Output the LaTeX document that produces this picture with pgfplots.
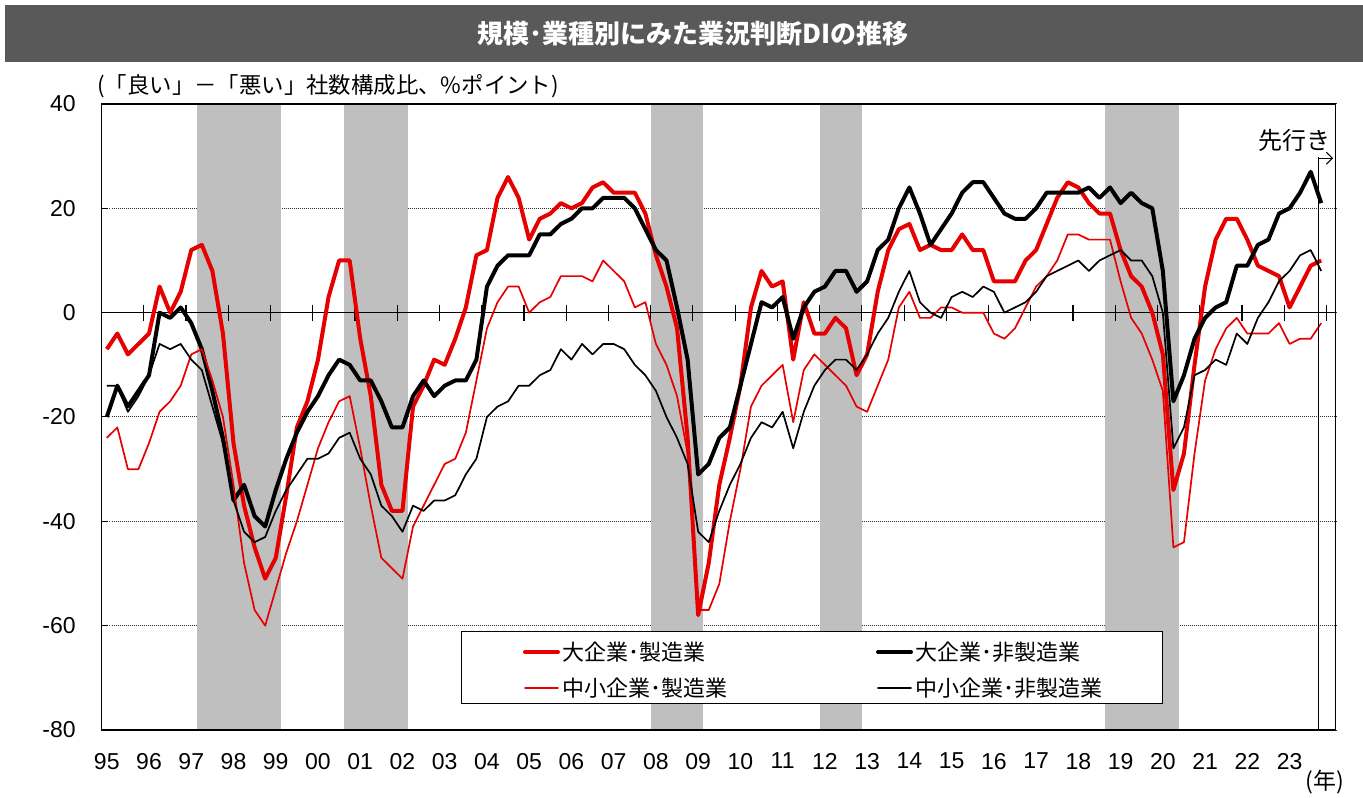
\documentclass[border=0pt]{standalone}
\usepackage{fontspec}
\setmainfont{Liberation Sans}
\newfontfamily\jp{Noto Sans CJK JP}
\usepackage{pgfplots}
\pgfplotsset{compat=1.18}
\usepackage{pgfplotstable}
\usetikzlibrary{arrows.meta}
\definecolor{jred}{RGB}{230,0,0}
\definecolor{shadegray}{RGB}{191,191,191}
\definecolor{bannergray}{RGB}{89,89,89}

% quarterly, x=0 is 1995 Q1 ... x=115 is 2023 Q4 (forecast)
\pgfplotstableread{
x LM LN SM SN
0 -7 -20 -24 -14
1 -4 -14 -22 -14
2 -8 -18 -30 -19
3 -6 -15 -30 -16
4 -4 -12 -25 -12
5 5 0 -19 -6
6 0 -1 -17 -7
7 4 1 -14 -6
8 12 -2 -8 -9
9 13 -7 -7 -11
10 8 -15 -13 -18
11 -4 -24 -20 -25
12 -25 -36 -33 -36
13 -37 -33 -48 -42
14 -45 -39 -57 -44
15 -51 -41 -60 -43
16 -47 -34 -53 -38
17 -35 -28 -46 -34
18 -22 -23 -40 -31
19 -17 -19 -33 -28
20 -9 -16 -26 -28
21 3 -12 -21 -27
22 10 -9 -17 -24
23 10 -10 -16 -23
24 -5 -13 -26 -28
25 -16 -13 -37 -31
26 -33 -17 -47 -37
27 -38 -22 -49 -39
28 -38 -22 -51 -42
29 -18 -16 -41 -37
30 -14 -13 -37 -38
31 -9 -16 -33 -36
32 -10 -14 -29 -36
33 -5 -13 -28 -35
34 1 -13 -23 -31
35 11 -9 -13 -28
36 12 5 -3 -20
37 22 9 2 -18
38 26 11 5 -17
39 22 11 5 -14
40 14 11 0 -14
41 18 15 2 -12
42 19 15 3 -11
43 21 17 7 -7
44 20 18 7 -9
45 21 20 7 -6
46 24 20 6 -8
47 25 22 10 -6
48 23 22 8 -6
49 23 22 6 -7
50 23 20 1 -10
51 19 16 2 -12
52 11 12 -6 -15
53 5 10 -10 -20
54 -3 1 -16 -24
55 -24 -9 -27 -29
56 -58 -31 -57 -42
57 -48 -29 -57 -44
58 -33 -24 -52 -38
59 -24 -22 -40 -33
60 -14 -14 -30 -29
61 1 -6 -18 -24
62 8 2 -14 -21
63 5 1 -12 -22
64 6 3 -10 -19
65 -9 -5 -21 -26
66 2 1 -11 -19
67 -4 4 -8 -14
68 -4 5 -10 -11
69 -1 8 -12 -9
70 -3 8 -14 -9
71 -12 4 -18 -11
72 -8 6 -19 -8
73 4 12 -14 -4
74 12 14 -9 -1
75 16 20 1 4
76 17 24 4 8
77 12 19 -1 2
78 13 13 -1 0
79 12 16 1 -1
80 12 19 1 3
81 15 23 0 4
82 12 25 0 3
83 12 25 0 5
84 6 22 -4 4
85 6 19 -5 0
86 6 18 -3 1
87 10 18 1 2
88 12 20 5 4
89 17 23 7 7
90 22 23 10 8
91 25 23 15 9
92 24 23 15 10
93 21 24 14 8
94 19 22 14 10
95 19 24 14 11
96 12 21 6 12
97 7 23 -1 10
98 5 21 -4 10
99 0 20 -9 7
100 -8 8 -15 0
101 -34 -17 -45 -26
102 -27 -12 -44 -22
103 -10 -5 -27 -12
104 5 -1 -13 -11
105 14 1 -7 -9
106 18 2 -3 -10
107 18 9 -1 -4
108 14 9 -4 -6
109 9 13 -4 -1
110 8 14 -4 2
111 7 19 -2 6
112 1 20 -6 8
113 5 23 -5 11
114 9 27 -5 12
115 10 21 -2 8
}\dataDI

% shaded periods (start end)
\pgfplotstableread{
s e
8.5 16.5
22.5 28.5
51.5 56.5
67.5 71.5
94.5 101.5
}\shadeTab

\begin{document}
\begin{tikzpicture}
\useasboundingbox (0,0) rectangle (681.5pt,398.5pt);
\fill[bannergray] (2.5pt,396pt) rectangle (681.5pt,367.5pt);
\node[text=white, font=\jp\bfseries\fontsize{13}{15}\selectfont] at (346.5pt,381.5pt) {規模･業種別にみた業況判断DIの推移};
\node[anchor=west, font=\jp\fontsize{11.2}{13}\selectfont, inner sep=0pt] at (48.5pt,355.5pt) {(「良い」－「悪い」社数構成比、\%ポイント)};
\begin{axis}[
  at={(50.75pt,33.5pt)}, anchor=south west,
  scale only axis, width=617.1pt, height=313pt,
  xmin=-0.5, xmax=116.37, ymin=-80, ymax=40,
  ytick={-80,-60,-40,-20,0,20,40},
  xtick={0,4,...,112},
  xticklabels={95,96,97,98,99,00,01,02,03,04,05,06,07,08,09,10,11,12,13,14,15,16,17,18,19,20,21,22,23},
  xtick style={draw=none},
  ytick style={black, line width=0.5pt},
  major tick length=3.5pt,
  tick align=inside, ytick pos=left, xtick pos=bottom,
  ymajorgrids,
  grid style={black!80, line width=0.5pt, dash pattern=on 0.5pt off 0.5pt},
  axis line style={black, line width=0.7pt},
  tick label style={font=\fontsize{11.5}{13}\selectfont},
  /pgf/number format/assume math mode=true,
  yticklabel style={xshift=-9.4pt},
  xticklabel style={yshift=-8pt},
  no marks,
]
% shaded periods
\pgfplotsinvokeforeach{0,1,2,3,4}{
  \pgfplotstablegetelem{#1}{s}\of\shadeTab \let\sS\pgfplotsretval
  \pgfplotstablegetelem{#1}{e}\of\shadeTab \let\sE\pgfplotsretval
  \edef\tmp{\noexpand\addplot[fill=shadegray, draw=none, forget plot] coordinates {(\sS,-79.85) (\sE,-79.85) (\sE,39.85) (\sS,39.85)};}
  \tmp
}
% zero line and year ticks
\draw[black, line width=0.7pt] (axis cs:-0.5,0) -- (axis cs:116.37,0);
\pgfplotsinvokeforeach{3.5,7.5,...,115.5}{
  \draw[black, line width=0.6pt] ([yshift=4pt]axis cs:#1,0) -- ([yshift=-4pt]axis cs:#1,0);
}
% series
\addplot[jred, line width=2pt, line join=round] table[x=x,y=LM]{\dataDI};
\addplot[black, line width=2pt, line join=round] table[x=x,y=LN]{\dataDI};
\addplot[jred, line width=0.85pt, line join=round] table[x=x,y=SM]{\dataDI};
\addplot[black, line width=0.85pt, line join=round] table[x=x,y=SN]{\dataDI};
% forecast marker
\draw[black, line width=0.5pt] (axis cs:114.7,-80) -- (axis cs:114.7,29.8);
\draw[black, line width=0.5pt, -{Straight Barb[length=3pt,width=6pt]}] (axis cs:114.7,29.6) -- ([xshift=7.5pt]axis cs:114.7,29.6);
\node[anchor=east, font=\jp\fontsize{12}{14}\selectfont, inner sep=0pt] at (axis cs:115.93,33) {先行き};
\end{axis}
% legend
\draw[fill=white, line width=0.5pt] (230.5pt,82.5pt) rectangle (581pt,47pt);
\draw[jred, line width=2pt, line cap=round] (262.5pt,72.5pt) -- (279pt,72.5pt);
\node[anchor=west, font=\jp\fontsize{11}{13}\selectfont, inner sep=0pt] at (281pt,72.5pt) {大企業･製造業};
\draw[black, line width=2pt, line cap=round] (439pt,72.5pt) -- (455.5pt,72.5pt);
\node[anchor=west, font=\jp\fontsize{11}{13}\selectfont, inner sep=0pt] at (457.5pt,72.5pt) {大企業･非製造業};
\draw[jred, line width=0.85pt, line cap=round] (262.5pt,54.5pt) -- (279pt,54.5pt);
\node[anchor=west, font=\jp\fontsize{11}{13}\selectfont, inner sep=0pt] at (281pt,54.5pt) {中小企業･製造業};
\draw[black, line width=0.85pt, line cap=round] (439pt,54.5pt) -- (455.5pt,54.5pt);
\node[anchor=west, font=\jp\fontsize{11}{13}\selectfont, inner sep=0pt] at (457.5pt,54.5pt) {中小企業･非製造業};
\node[font=\jp\fontsize{11.5}{13}\selectfont, inner sep=0pt] at (662.5pt,7.5pt) {(年)};
\end{tikzpicture}
\end{document}
